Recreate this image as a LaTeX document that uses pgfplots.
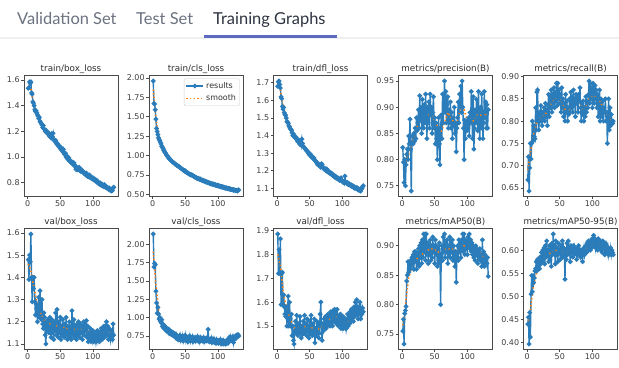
\documentclass[border=0pt]{standalone}
\usepackage{pgfplots}
\usepackage{pgfplotstable}
\pgfplotsset{compat=1.18}
\usepackage{fontspec}
\setmainfont{DejaVu Sans}
\newfontfamily\lato{Lato}
\definecolor{mplblue}{HTML}{2A7DBA}
\definecolor{mplorange}{HTML}{FF7F0E}
\definecolor{tabgray}{HTML}{6B7280}
\definecolor{tabdark}{HTML}{2D3340}
\definecolor{tabline}{HTML}{5C6BC0}
\definecolor{sepgray}{HTML}{EFEFEF}
\definecolor{axgray}{HTML}{4A4A4A}

\pgfplotstableread{
ep bl cl dl pr rc vb vc vd m5 m9
1 1.535 1.96 1.68 0.823 0.668 1.48 2.14 1.885 0.755 0.440
2 1.54 1.67 1.705 0.795 0.72 1.39 1.69 1.72 0.775 0.455
3 1.585 1.665 1.71 0.756 0.643 1.50 1.74 1.82 0.733 0.397
4 1.575 1.59 1.69 0.80 0.695 1.47 1.72 1.72 0.785 0.465
5 1.585 1.47 1.67 0.75 0.75 1.595 1.36 1.865 0.79 0.412
6 1.50 1.35 1.62 0.79 0.715 1.40 1.20 1.59 0.797 0.505
7 1.49 1.31 1.61 0.81 0.75 1.29 1.06 1.72 0.84 0.545
8 1.43 1.27 1.565 0.82 0.80 1.40 1.14 1.725 0.85 0.51
9 1.42 1.23 1.55 0.80 0.755 1.35 1.05 1.59 0.873 0.545
10 1.40 1.21 1.56 0.845 0.79 1.40 0.98 1.63 0.855 0.53
11 1.37 1.19 1.53 0.83 0.765 1.29 1.00 1.58 0.873 0.54
12 1.355 1.17 1.52 0.877 0.76 1.23 0.95 1.55 0.86 0.555
13 1.36 1.15 1.515 0.82 0.83 1.28 0.93 1.54 0.875 0.56
14 1.345 1.12 1.50 0.74 0.78 1.26 0.97 1.58 0.865 0.575
15 1.33 1.11 1.48 0.83 0.865 1.20 0.88 1.50 0.88 0.555
16 1.32 1.09 1.475 0.845 0.87 1.27 0.91 1.56 0.87 0.58
17 1.30 1.07 1.47 0.83 0.80 1.31 0.86 1.625 0.885 0.565
18 1.31 1.06 1.455 0.85 0.78 1.22 0.89 1.50 0.86 0.575
19 1.28 1.04 1.45 0.835 0.82 1.34 0.84 1.60 0.89 0.56
20 1.27 1.03 1.44 0.86 0.80 1.25 0.87 1.53 0.875 0.585
21 1.26 1.01 1.435 0.84 0.835 1.21 0.82 1.50 0.89 0.57
22 1.25 1.00 1.43 0.88 0.81 1.30 0.85 1.55 0.86 0.595
23 1.23 0.99 1.415 0.855 0.79 1.19 0.81 1.46 0.885 0.575
24 1.245 0.975 1.40 0.87 0.82 1.17 0.84 1.50 0.87 0.60
25 1.22 0.97 1.41 0.895 0.805 1.24 0.79 1.44 0.895 0.58
26 1.215 0.955 1.40 0.86 0.83 1.22 0.83 1.425 0.865 0.605
27 1.20 0.95 1.395 0.922 0.80 1.14 0.78 1.48 0.90 0.57
28 1.21 0.94 1.385 0.875 0.84 1.10 0.81 1.52 0.88 0.61
29 1.19 0.93 1.39 0.90 0.81 1.20 0.77 1.47 0.905 0.585
30 1.195 0.925 1.38 0.85 0.825 1.16 0.80 1.545 0.87 0.62
31 1.18 0.915 1.37 0.915 0.79 1.21 0.76 1.49 0.91 0.59
32 1.19 0.91 1.365 0.88 0.835 1.18 0.79 1.46 0.88 0.60
33 1.17 0.905 1.375 0.86 0.86 1.15 0.75 1.51 0.92 0.575
34 1.16 0.895 1.36 0.905 0.81 1.22 0.78 1.47 0.89 0.61
35 1.175 0.89 1.35 0.87 0.855 1.17 0.73 1.54 0.92 0.58
36 1.15 0.885 1.365 0.925 0.83 1.13 0.77 1.48 0.875 0.605
37 1.18 0.875 1.345 0.88 0.87 1.21 0.72 1.45 0.92 0.565
38 1.16 0.87 1.38 0.84 0.82 1.15 0.75 1.50 0.885 0.615
39 1.185 0.865 1.355 0.90 0.86 1.19 0.70 1.465 0.905 0.59
40 1.14 0.86 1.34 0.87 0.84 1.12 0.74 1.52 0.87 0.635
41 1.13 0.855 1.335 0.91 0.875 1.20 0.71 1.48 0.90 0.595
42 1.12 0.845 1.33 0.86 0.83 1.16 0.76 1.545 0.885 0.61
43 1.13 0.84 1.325 0.925 0.865 1.24 0.69 1.47 0.91 0.57
44 1.11 0.835 1.32 0.885 0.845 1.14 0.73 1.51 0.875 0.62
45 1.10 0.83 1.315 0.90 0.885 1.255 0.70 1.46 0.90 0.59
46 1.105 0.82 1.31 0.85 0.835 1.17 0.75 1.53 0.88 0.605
47 1.09 0.815 1.31 0.89 0.885 1.13 0.68 1.48 0.915 0.575
48 1.08 0.81 1.30 0.92 0.85 1.20 0.72 1.50 0.89 0.615
49 1.085 0.80 1.295 0.86 0.87 1.15 0.70 1.45 0.90 0.595
50 1.07 0.805 1.29 0.88 0.84 1.22 0.76 1.52 0.87 0.60
51 1.06 0.79 1.295 0.83 0.86 1.12 0.69 1.47 0.91 0.58
52 1.07 0.785 1.28 0.87 0.82 1.18 0.74 1.545 0.885 0.61
53 1.05 0.78 1.285 0.84 0.875 1.14 0.71 1.48 0.90 0.59
54 1.04 0.775 1.275 0.80 0.83 1.21 0.67 1.46 0.865 0.62
55 1.06 0.77 1.27 0.86 0.85 1.16 0.73 1.51 0.895 0.585
56 1.03 0.765 1.275 0.88 0.81 1.13 0.70 1.47 0.87 0.605
57 1.02 0.76 1.265 0.83 0.84 1.19 0.75 1.53 0.905 0.595
58 1.03 0.755 1.26 0.79 0.80 1.14 0.68 1.43 0.88 0.537
59 1.00 0.75 1.255 0.86 0.86 1.22 0.72 1.49 0.80 0.60
60 1.01 0.755 1.25 0.885 0.82 1.15 0.70 1.46 0.885 0.58
61 0.99 0.745 1.245 0.84 0.845 1.12 0.74 1.52 0.90 0.615
62 0.98 0.74 1.235 0.925 0.80 1.18 0.67 1.47 0.875 0.59
63 0.995 0.735 1.24 0.87 0.83 1.13 0.71 1.51 0.915 0.62
64 0.97 0.73 1.23 0.91 0.815 1.20 0.69 1.45 0.89 0.595
65 0.975 0.725 1.235 0.95 0.85 1.15 0.73 1.50 0.92 0.605
66 0.96 0.72 1.225 0.89 0.82 1.17 0.68 1.55 0.88 0.575
67 0.965 0.715 1.22 0.93 0.865 1.12 0.72 1.60 0.905 0.61
68 0.95 0.71 1.24 0.87 0.83 1.25 0.70 1.47 0.89 0.595
69 0.96 0.705 1.235 0.905 0.855 1.16 0.74 1.44 0.91 0.60
70 0.945 0.71 1.22 0.92 0.82 1.14 0.68 1.51 0.87 0.585
71 0.955 0.70 1.215 0.86 0.87 1.21 0.71 1.48 0.90 0.61
72 0.93 0.695 1.21 0.895 0.835 1.13 0.67 1.53 0.885 0.59
73 0.935 0.70 1.215 0.87 0.85 1.18 0.73 1.50 0.915 0.605
74 0.905 0.69 1.205 0.91 0.81 1.15 0.69 1.54 0.88 0.595
75 0.915 0.685 1.20 0.86 0.86 1.12 0.72 1.49 0.905 0.60
76 0.90 0.68 1.21 0.89 0.84 1.19 0.68 1.52 0.89 0.58
77 0.91 0.685 1.195 0.84 0.855 1.14 0.70 1.50 0.91 0.605
78 0.905 0.675 1.20 0.88 0.82 1.20 0.73 1.55 0.875 0.59
79 0.92 0.67 1.19 0.865 0.86 1.16 0.67 1.51 0.90 0.61
80 0.90 0.675 1.195 0.90 0.845 1.13 0.71 1.545 0.885 0.595
81 0.89 0.665 1.185 0.85 0.875 1.19 0.69 1.50 0.865 0.60
82 0.905 0.66 1.19 0.87 0.83 1.15 0.72 1.56 0.89 0.585
83 0.895 0.665 1.18 0.815 0.80 1.18 0.68 1.52 0.838 0.59
84 0.885 0.655 1.185 0.86 0.84 1.12 0.70 1.54 0.885 0.60
85 0.89 0.65 1.175 0.88 0.815 1.17 0.84 1.50 0.90 0.575
86 0.875 0.655 1.17 0.91 0.845 1.20 0.71 1.565 0.875 0.595
87 0.88 0.645 1.175 0.87 0.80 1.14 0.67 1.52 0.91 0.605
88 0.87 0.64 1.165 0.925 0.83 1.19 0.70 1.57 0.89 0.59
89 0.86 0.645 1.17 0.90 0.81 1.16 0.68 1.53 0.905 0.60
90 0.875 0.635 1.16 0.94 0.855 1.205 0.72 1.55 0.88 0.61
91 0.86 0.64 1.165 0.89 0.82 1.13 0.66 1.51 0.91 0.595
92 0.85 0.63 1.155 0.95 0.845 1.18 0.69 1.57 0.895 0.615
93 0.855 0.635 1.16 0.90 0.83 1.11 0.67 1.53 0.92 0.60
94 0.845 0.625 1.15 0.86 0.86 1.15 0.71 1.50 0.89 0.62
95 0.86 0.63 1.155 0.80 0.89 1.12 0.66 1.54 0.92 0.605
96 0.84 0.62 1.145 0.875 0.84 1.17 0.68 1.51 0.885 0.615
97 0.845 0.625 1.15 0.84 0.885 1.11 0.65 1.55 0.91 0.60
98 0.835 0.615 1.16 0.87 0.85 1.14 0.70 1.49 0.895 0.62
99 0.83 0.62 1.145 0.855 0.875 1.12 0.66 1.52 0.905 0.605
100 0.84 0.61 1.14 0.875 0.83 1.16 0.69 1.50 0.885 0.625
101 0.825 0.615 1.135 0.86 0.885 1.11 0.65 1.54 0.915 0.61
102 0.82 0.605 1.14 0.88 0.86 1.14 0.68 1.49 0.90 0.632
103 0.83 0.61 1.13 0.845 0.84 1.12 0.66 1.52 0.92 0.61
104 0.815 0.60 1.17 0.89 0.88 1.15 0.70 1.50 0.895 0.625
105 0.81 0.605 1.135 0.87 0.85 1.11 0.64 1.53 0.91 0.605
106 0.82 0.595 1.13 0.93 0.87 1.13 0.67 1.49 0.89 0.615
107 0.80 0.60 1.135 0.88 0.83 1.16 0.65 1.51 0.905 0.62
108 0.805 0.59 1.125 0.84 0.86 1.12 0.69 1.55 0.885 0.60
109 0.795 0.595 1.13 0.92 0.81 1.14 0.64 1.50 0.90 0.625
110 0.79 0.585 1.12 0.82 0.85 1.11 0.66 1.53 0.88 0.61
111 0.80 0.59 1.125 0.86 0.87 1.15 0.68 1.51 0.895 0.605
112 0.785 0.58 1.12 0.895 0.80 1.13 0.64 1.56 0.875 0.62
113 0.78 0.585 1.115 0.87 0.85 1.17 0.67 1.52 0.90 0.60
114 0.79 0.58 1.12 0.915 0.83 1.12 0.65 1.57 0.885 0.615
115 0.775 0.575 1.11 0.88 0.81 1.16 0.70 1.53 0.895 0.595
116 0.78 0.58 1.115 0.855 0.845 1.14 0.66 1.55 0.87 0.62
117 0.77 0.57 1.105 0.93 0.80 1.18 0.72 1.52 0.89 0.605
118 0.785 0.575 1.11 0.875 0.83 1.13 0.68 1.58 0.88 0.61
119 0.765 0.565 1.10 0.84 0.82 1.17 0.74 1.54 0.895 0.59
120 0.77 0.57 1.105 0.90 0.85 1.15 0.69 1.60 0.875 0.615
121 0.76 0.565 1.10 0.86 0.80 1.20 0.72 1.55 0.885 0.60
122 0.765 0.56 1.105 0.925 0.82 1.14 0.70 1.61 0.865 0.61
123 0.755 0.565 1.095 0.88 0.75 1.18 0.74 1.57 0.91 0.595
124 0.75 0.555 1.10 0.84 0.81 1.12 0.66 1.53 0.87 0.605
125 0.76 0.56 1.09 0.87 0.85 1.17 0.73 1.58 0.89 0.59
126 0.745 0.555 1.095 0.93 0.78 1.14 0.71 1.55 0.865 0.60
127 0.74 0.55 1.09 0.88 0.83 1.12 0.75 1.60 0.885 0.595
128 0.75 0.555 1.085 0.91 0.79 1.16 0.72 1.53 0.875 0.605
129 0.735 0.55 1.095 0.86 0.815 1.13 0.76 1.57 0.88 0.59
130 0.74 0.545 1.10 0.905 0.80 1.12 0.74 1.55 0.87 0.60
131 0.76 0.555 1.11 0.86 0.795 1.19 0.77 1.575 0.88 0.595
132 0.765 0.56 1.115 0.895 0.80 1.14 0.75 1.56 0.848 0.59
}\res

\pgfplotstableread{
ep bl cl dl pr rc vb vc vd m5 m9
1 1.55 1.85 1.70 0.795 0.69 1.46 1.90 1.80 0.765 0.44
5 1.53 1.48 1.66 0.795 0.73 1.43 1.45 1.75 0.80 0.47
10 1.40 1.21 1.55 0.81 0.77 1.35 1.05 1.63 0.845 0.525
15 1.335 1.11 1.485 0.83 0.80 1.28 0.92 1.57 0.865 0.555
20 1.275 1.03 1.44 0.85 0.805 1.24 0.855 1.535 0.875 0.57
25 1.225 0.965 1.41 0.87 0.81 1.21 0.815 1.495 0.88 0.58
30 1.19 0.925 1.385 0.88 0.82 1.195 0.785 1.49 0.885 0.59
35 1.17 0.89 1.36 0.88 0.835 1.19 0.76 1.495 0.89 0.593
40 1.15 0.86 1.345 0.885 0.845 1.185 0.74 1.50 0.893 0.597
45 1.11 0.83 1.315 0.885 0.85 1.18 0.73 1.497 0.895 0.60
50 1.075 0.805 1.29 0.875 0.848 1.178 0.725 1.495 0.893 0.60
55 1.05 0.77 1.27 0.86 0.835 1.175 0.72 1.49 0.89 0.598
60 1.01 0.752 1.25 0.855 0.82 1.172 0.715 1.485 0.885 0.595
65 0.975 0.725 1.235 0.87 0.825 1.168 0.712 1.49 0.893 0.598
70 0.95 0.708 1.22 0.89 0.835 1.165 0.71 1.505 0.895 0.60
75 0.915 0.688 1.205 0.88 0.84 1.165 0.708 1.515 0.895 0.60
80 0.90 0.672 1.193 0.87 0.845 1.165 0.708 1.525 0.893 0.60
85 0.885 0.655 1.178 0.875 0.825 1.168 0.712 1.535 0.89 0.598
90 0.87 0.638 1.165 0.90 0.83 1.165 0.705 1.54 0.895 0.60
95 0.855 0.628 1.153 0.895 0.85 1.15 0.69 1.53 0.90 0.607
100 0.838 0.612 1.142 0.875 0.855 1.14 0.68 1.52 0.903 0.613
105 0.815 0.603 1.135 0.87 0.855 1.135 0.672 1.515 0.905 0.615
110 0.797 0.59 1.125 0.875 0.85 1.135 0.665 1.52 0.90 0.615
115 0.78 0.578 1.115 0.885 0.835 1.145 0.675 1.535 0.893 0.612
120 0.768 0.568 1.105 0.885 0.82 1.155 0.695 1.55 0.888 0.607
125 0.752 0.558 1.097 0.88 0.812 1.15 0.715 1.555 0.882 0.60
130 0.742 0.55 1.095 0.89 0.80 1.145 0.74 1.55 0.876 0.595
}\smo

\pgfplotsset{
  sub/.style={
    scale only axis, width=94bp, height=121bp, anchor=north west,
    xmin=-5.55, xmax=138.55, xtick={0,50,100},
    axis line style={axgray, line width=0.7bp},
    every tick/.style={axgray, line width=0.7bp},
    tick align=outside, major tick length=2.7bp,
    xtick pos=bottom, ytick pos=left,
    /pgf/number format/assume math mode=true,
    tick label style={font=\fontsize{8}{9}\selectfont, text=black!75},
    xticklabel style={inner sep=1bp},
    yticklabel style={inner sep=1.5bp},
    scaled y ticks=false,
    every axis title/.style={font=\fontsize{8.8}{10}\selectfont, text=black!82, at={(0.5,1)}, anchor=base, yshift=4.4bp, inner sep=0pt},
    clip=false,
  },
  res/.style={mplblue, line width=1.4bp, mark=*, mark size=1.6bp, mark options={solid}},
  smo/.style={mplorange, line width=1.6bp, dash pattern=on 1.4bp off 2.2bp, no marks},
}

\newcommand{\subplot}[8]{%
  \begin{axis}[sub, at={(#1bp,#2bp)}, title={#3}, ymin=#5, ymax=#6, ytick={#7},
    yticklabel style={/pgf/number format/.cd, fixed, fixed zerofill, precision=#8}]
    \addplot[res] table[x=ep,y=#4]{\res};
    \addplot[smo] table[x=ep,y=#4]{\smo};
  \end{axis}}

\begin{document}
\begin{tikzpicture}[x=1bp,y=1bp]
\path[use as bounding box, fill=white] (0,0) rectangle (619,-367);
\fill[sepgray] (0,-37) rectangle (619,-39);
\fill[tabline] (204,-35.2) rectangle (337,-37.6);
\node[anchor=base west, inner sep=0pt, text=tabgray, font=\lato\fontsize{16.5}{18}\selectfont] at (17,-24.5) {Validation Set};
\node[anchor=base west, inner sep=0pt, text=tabgray, font=\lato\fontsize{16.5}{18}\selectfont] at (136,-24.5) {Test Set};
\node[anchor=base west, inner sep=0pt, text=tabdark, font=\lato\fontsize{16.5}{18}\selectfont] at (213,-24.5) {Training Graphs};

\subplot{24}{-75.5}{train/box\_loss}{bl}{0.693}{1.635}{0.8,1.0,1.2,1.4,1.6}{1}
\begin{axis}[sub, at={(149bp,-75.5bp)}, title={train/cls\_loss}, ymin=0.474, ymax=2.031,
    ytick={0.5,0.75,1.0,1.25,1.5,1.75,2.0},
    yticklabel style={/pgf/number format/.cd, fixed, fixed zerofill, precision=2},
    legend style={at={(0.965,0.975)}, anchor=north east, draw=black!20, rounded corners=1.5bp,
      fill=white, font=\fontsize{8}{9}\selectfont, text=black!80, inner sep=1.5bp, row sep=1bp},
    legend cell align=left]
  \addplot[res] table[x=ep,y=cl]{\res};
  \addlegendentry{results}
  \addplot[smo] table[x=ep,y=cl]{\smo};
  \addlegendentry{smooth}
\end{axis}
\subplot{273.5}{-75.5}{train/dfl\_loss}{dl}{1.054}{1.741}{1.1,1.2,1.3,1.4,1.5,1.6,1.7}{1}
\subplot{398.5}{-75.5}{metrics/precision(B)}{pr}{0.7295}{0.9605}{0.75,0.8,0.85,0.9,0.95}{2}
\subplot{523.5}{-75.5}{metrics/recall(B)}{rc}{0.6307}{0.9024}{0.65,0.7,0.75,0.8,0.85,0.9}{2}

\subplot{24}{-228.5}{val/box\_loss}{vb}{1.075}{1.62}{1.1,1.2,1.3,1.4,1.5,1.6}{1}
\subplot{149}{-228.5}{val/cls\_loss}{vc}{0.565}{2.215}{0.75,1.0,1.25,1.5,1.75,2.0}{2}
\subplot{273.5}{-228.5}{val/dfl\_loss}{vd}{1.402}{1.908}{1.5,1.6,1.7,1.8,1.9}{1}
\subplot{398.5}{-228.5}{metrics/mAP50(B)}{m5}{0.7237}{0.9294}{0.75,0.8,0.85,0.9}{2}
\subplot{523.5}{-228.5}{metrics/mAP50-95(B)}{m9}{0.3851}{0.6469}{0.4,0.45,0.5,0.55,0.6}{2}
\end{tikzpicture}
\end{document}
